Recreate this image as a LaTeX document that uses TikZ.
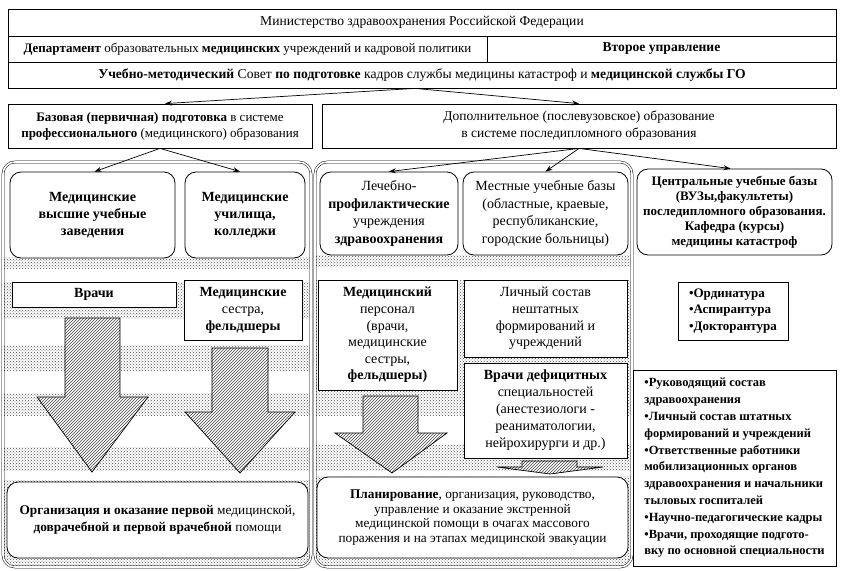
\documentclass[tikz,border=0pt]{standalone}
\usepackage{fontspec}
\setmainfont{Liberation Serif}
\usetikzlibrary{patterns,arrows.meta}
\newcommand{\mybox}[7]{\node[#6, minimum width={(#4)-(#2)}, minimum height={(#5)-(#3)}] (#1) at ({((#2)+(#4))/2},{((#3)+(#5))/2}) {#7};}
\begin{document}
\begin{tikzpicture}[x=1pt,y=-1pt,
  every node/.style={font=\fontsize{13}{16}\selectfont},
  sq/.style={draw, line width=0.8pt, fill=white, align=center, inner sep=1pt},
  rnd/.style={sq, rounded corners=11pt},
  toprow/.style={sq, font=\fontsize{13.6}{16}\selectfont},
  arr/.style={line width=0.7pt, -{Stealth[length=7pt,width=5pt]}},
  band/.style={pattern=crosshatch dots, pattern color=black!70},
  bigarrow/.style={draw, line width=0.7pt, preaction={fill=white}, pattern=north east lines, pattern color=black!75},
  panel/.style={draw, line width=0.5pt, double, double distance=1.6pt, rounded corners=12pt}
]
\useasboundingbox (0,0) rectangle (845,570);

% ---------- panels with dotted bands ----------
\begin{scope}
  \clip[rounded corners=12pt] (3,162) rectangle (311,567);
  \fill[band] (0,257) rectangle (320,268);
  \fill[band] (0,282) rectangle (320,318);
  \fill[band] (0,345) rectangle (320,370);
  \fill[band] (0,393) rectangle (320,415);
  \fill[band] (0,447) rectangle (320,470);
  \fill[band] (0,480) rectangle (320,570);
\end{scope}
\draw[panel] (3,162) rectangle (311,567);

\begin{scope}
  \clip[rounded corners=12pt] (315,162) rectangle (632,567);
  \fill[band] (310,255) rectangle (640,266);
  \fill[band] (310,280) rectangle (640,415);
  \fill[band] (310,445) rectangle (640,470);
  \fill[band] (310,476) rectangle (640,570);
\end{scope}
\draw[panel] (315,162) rectangle (632,567);

% ---------- top block ----------
\mybox{row1}{8}{9}{836}{36}{toprow}{Министерство здравоохранения Российской Федерации}
\mybox{row2a}{8}{36}{487}{62}{sq}{\textbf{Департамент} образовательных \textbf{медицинских} учреждений и кадровой политики}
\mybox{row2b}{487}{36}{836}{62}{toprow}{\textbf{Второе управление}}
\mybox{row3}{8}{62}{836}{88}{toprow}{\textbf{Учебно-методический} Совет \textbf{по подготовке} кадров службы медицины катастроф и \textbf{медицинской службы ГО}}

% ---------- second level ----------
\mybox{basic}{8}{104}{312}{148}{sq}{\textbf{Базовая (первичная) подготовка} в системе\\\textbf{профессионального} (медицинского) образования}
\mybox{addit}{322}{104}{836}{148}{sq, font=\fontsize{13.5}{17}\selectfont}{Дополнительное (послевузовское) образование\\в системе последипломного образования}

% ---------- left panel ----------
\mybox{vuz}{10}{172}{175}{258}{rnd, font=\fontsize{14}{17}\selectfont\bfseries}{Медицинские\\высшие учебные\\заведения}
\mybox{uch}{185}{172}{305}{258}{rnd, font=\fontsize{14}{17}\selectfont\bfseries}{Медицинские\\училища,\\колледжи}
\mybox{vrachi}{12}{282}{176}{307}{sq, font=\fontsize{14}{17}\selectfont\bfseries}{Врачи}
\mybox{sestra}{184}{280}{302}{340}{sq, font=\fontsize{14}{17}\selectfont}{\textbf{Медицинские}\\сестра,\\\textbf{фельдшеры}}

\draw[bigarrow] (65,318) -- (120,318) -- (120,397) -- (148,397) -- (92,472) -- (37,397) -- (65,397) -- cycle;
\draw[bigarrow] (212,348) -- (268,348) -- (268,412) -- (295,412) -- (240,473) -- (185,412) -- (212,412) -- cycle;

\mybox{orgL}{7}{482}{308}{558}{rnd, font=\fontsize{13.3}{17}\selectfont}{\textbf{Организация и оказание первой} медицинской,\\\textbf{доврачебной и первой врачебной} помощи}

% ---------- middle panel ----------
\mybox{lpu}{320}{172}{458}{255}{rnd, font=\fontsize{14}{17.5}\selectfont}{Лечебно-\\\textbf{профилактические}\\учреждения\\\textbf{здравоохранения}}
\mybox{mest}{463}{172}{628}{255}{rnd, font=\fontsize{14}{17.5}\selectfont}{Местные учебные базы\\(областные, краевые,\\республиканские,\\городские больницы)}
\mybox{personal}{318}{280}{457}{390}{sq, font=\fontsize{14}{16.6}\selectfont}{\textbf{Медицинский}\\персонал\\(врачи,\\медицинские\\сестры,\\\textbf{фельдшеры)}}
\mybox{lichny}{464}{280}{627}{357}{sq, font=\fontsize{14}{16.6}\selectfont}{Личный состав\\нештатных\\формирований и\\учреждений}
\mybox{defic}{464}{363}{627}{458}{sq, font=\fontsize{14}{17}\selectfont}{\textbf{Врачи дефицитных}\\специальностей\\(анестезиологи -\\реаниматологии,\\нейрохирурги и др.)}

\draw[bigarrow] (363,396) -- (418,396) -- (418,433) -- (447,433) -- (392,473) -- (335,433) -- (363,433) -- cycle;
\draw[bigarrow] (522,461) -- (577,461) -- (577,467) -- (603,467) -- (550,474) -- (497,467) -- (522,467) -- cycle;

\mybox{orgM}{317}{477}{628}{558}{rnd, font=\fontsize{13.3}{14.7}\selectfont}{\textbf{Планирование}, организация, руководство,\\управление и оказание экстренной\\медицинской помощи в очагах массового\\поражения и на этапах медицинской эвакуации}

% ---------- right column ----------
\mybox{central}{637}{169}{832}{255}{rnd, font=\fontsize{13}{15}\selectfont\bfseries}{Центральные учебные базы\\(ВУЗы,факультеты)\\последипломного образования.\\Кафедра (курсы)\\медицины катастроф}
\mybox{ordin}{678}{282}{788}{340}{sq, align=left, font=\fontsize{13}{16.5}\selectfont\bfseries}{•Ординатура\\•Аспирантура\\•Докторантура}
\mybox{list}{633}{370}{836}{566}{sq, align=left, inner sep=3pt, font=\fontsize{12.5}{16.8}\selectfont\bfseries}{•Руководящий состав\\здравоохранения\\•Личный состав штатных\\формирований и учреждений\\•Ответственные работники\\мобилизационных органов\\здравоохранения и начальники\\тыловых госпиталей\\•Научно-педагогические кадры\\•Врачи, проходящие подгото-\\вку по основной специальности}

% ---------- connectors ----------
\draw[arr] ([xshift=-7pt]row3.south) -- ([xshift=5pt]basic.north);
\draw[arr] ([xshift=-7pt]row3.south) -- (addit.north);
\draw[arr] (basic.south) -- ([xshift=2pt]vuz.north);
\draw[arr] (basic.south) -- ([xshift=-5pt]uch.north);
\draw[arr] (addit.south) -- (lpu.north);
\draw[arr] (addit.south) -- (mest.north);
\draw[arr] (addit.south) -- ([xshift=-4pt]central.north);
\end{tikzpicture}
\end{document}
